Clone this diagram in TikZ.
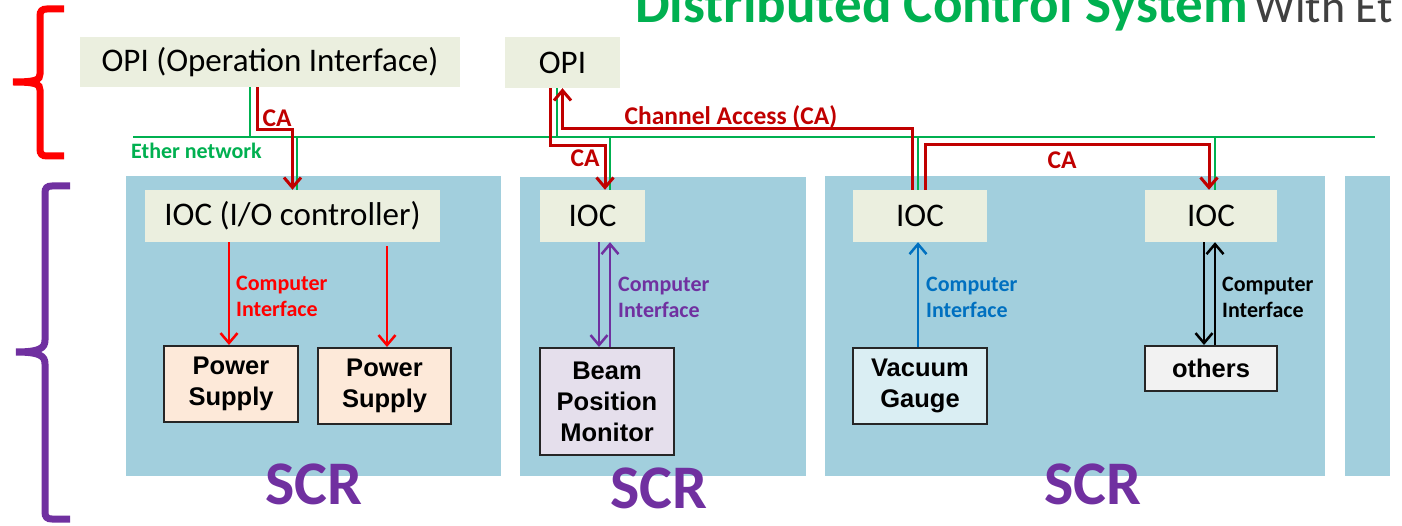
\documentclass[tikz,border=0pt]{standalone}
\usepackage{fontspec}
\setmainfont{Carlito}
\newfontfamily\arialf{Liberation Sans}
\usetikzlibrary{arrows.meta}
\definecolor{panelc}{HTML}{A2CFDD}
\definecolor{boxc}{HTML}{EBEFDF}
\definecolor{psc}{HTML}{FDE9D9}
\definecolor{bpmc}{HTML}{E5DFEC}
\definecolor{vacc}{HTML}{DAEEF3}
\definecolor{othc}{HTML}{F2F2F2}
\definecolor{purp}{HTML}{7030A0}
\definecolor{cared}{HTML}{C00000}
\definecolor{brred}{HTML}{FF0000}
\definecolor{netg}{HTML}{00B050}
\definecolor{blu}{HTML}{0070C0}
\definecolor{titgray}{HTML}{404040}
\tikzset{
  swbox/.style={fill=boxc, inner sep=0pt, font=\fontsize{33}{40}\selectfont},
  dev/.style={fill=#1, draw=black!85, line width=2pt, inner sep=0pt, align=center,
     font=\arialf\bfseries\fontsize{25.5}{30.5}\selectfont},
  panel/.style={fill=panelc, draw=none},
  brace/.style={line width=7pt},
  net/.style={netg, line width=2.5pt},
  ca/.style={cared, line width=3pt},
  tip/.style={-{Straight Barb[length=10pt,width=17pt]}},
  cif/.style={line width=2.5pt},
  cilab/.style={font=\bfseries\fontsize{22}{26}\selectfont, align=left, anchor=west, inner sep=0pt},
  calab/.style={cared, font=\bfseries\fontsize{25.5}{30}\selectfont, inner sep=0pt},
  scr/.style={purp, font=\bfseries\fontsize{62}{70}\selectfont, inner sep=0pt}
}
\begin{document}
\begin{tikzpicture}[x=1pt,y=-1pt]
\useasboundingbox (0,0) rectangle (1402,526);
% title (cut at top, as in the reference)
\node[anchor=base west, inner sep=0pt, font=\bfseries\fontsize{55}{60}\selectfont, text=netg] (title) at (635,23) {Distributed Control System};
\node[anchor=base west, inner sep=0pt, font=\fontsize{46}{50}\selectfont, text=titgray] (title2) at (1254,23) {With Et};
% braces
\draw[brace, brred] (64,9) -- (47,9) .. controls (42,9) and (40,11) .. (40,16) -- (40,74)
   .. controls (40,80) and (36,82) .. (13,82) .. controls (36,82) and (40,84) .. (40,90)
   -- (40,149) .. controls (40,154) and (42,156) .. (47,156) -- (64,156);
\draw[brace, purp] (70,186) -- (52,186) .. controls (47,186) and (45,188) .. (45,193) -- (45,340)
   .. controls (45,348) and (40,352) .. (16,352) .. controls (40,352) and (45,356) .. (45,364)
   -- (45,512) .. controls (45,517) and (47,519) .. (52,519) -- (70,519);
% panels
\fill[panel] (126,176) rectangle (501,476);
\fill[panel] (520,177) rectangle (806,476);
\fill[panel] (825,176) rectangle (1325,476);
\fill[panel] (1345,176) rectangle (1390,476);
% SCR labels
\node[scr] (scr1) at (314,484) {SCR};
\node[scr] (scr2) at (659,488) {SCR};
\node[scr] (scr3) at (1093,484) {SCR};
% software boxes
\node[swbox, minimum width=380pt, minimum height=50pt] (opi1) at (270,62) {OPI (Operation Interface)};
\node[swbox, minimum width=115pt, minimum height=51pt] (opi2) at (562.5,62.5) {OPI};
\node[swbox, minimum width=295pt, minimum height=52pt] (ioc1) at (292.5,216) {IOC (I/O controller)};
\node[swbox, minimum width=105pt, minimum height=52pt] (ioc2) at (592.5,216) {IOC};
\node[swbox, minimum width=134pt, minimum height=52pt] (ioc3) at (920,216) {IOC};
\node[swbox, minimum width=132pt, minimum height=52pt] (ioc4) at (1211,216) {IOC};
% devices
\node[dev=psc, minimum width=134pt, minimum height=76pt] (ps1) at (231,384) {Power\\Supply};
\node[dev=psc, minimum width=133pt, minimum height=76pt] (ps2) at (384.5,386) {Power\\Supply};
\node[dev=bpmc, minimum width=134pt, minimum height=107pt, font=\arialf\bfseries\fontsize{25.5}{31}\selectfont] (bpm) at (607,401.5) {Beam\\Position\\Monitor};
\node[dev=vacc, minimum width=134pt, minimum height=76pt] (vac) at (920,386) {Vacuum\\Gauge};
\node[dev=othc, minimum width=132pt, minimum height=45pt] (oth) at (1211,368.5) {others};
% ether network
\coordinate (netL) at (133,137);
\coordinate (netR) at (1375,137);
\draw[net] (netL) -- (netR);
\node[anchor=west, inner sep=0pt, text=netg, font=\bfseries\fontsize{22}{26}\selectfont] (ethlab) at (131,151) {Ether network};
% green drops
\draw[net] ([xshift=-20pt]opi1.south) -- ([xshift=-20pt]opi1.south |- netL);
\draw[net] ([xshift=4.5pt]ioc1.north |- netL) -- ([xshift=4.5pt]ioc1.north);
\draw[net] ([xshift=-5.5pt]opi2.south) -- ([xshift=-5.5pt]opi2.south |- netL);
\draw[net] ([xshift=17.5pt]ioc2.north |- netL) -- ([xshift=17.5pt]ioc2.north);
\draw[net] ([xshift=-2pt]ioc3.north |- netL) -- ([xshift=-2pt]ioc3.north);
\draw[net] ([xshift=4pt]ioc4.north |- netL) -- ([xshift=4pt]ioc4.north);
% CA paths
\draw[ca, tip] ([xshift=-13pt]opi1.south) -- ++(0,42) -| (ioc1.north);
\node[calab] (ca1) at (277,118) {CA};
\draw[ca, tip] ([xshift=-12.5pt]opi2.south) -- ++(0,57.5) -| ([xshift=12.5pt]ioc2.north);
\node[calab] (ca2) at (585,158) {CA};
\draw[ca, tip] ([xshift=-8pt]ioc3.north) -- ++(0,-61) -| (opi2.south);
\node[calab] (ca3) at (731,117) {Channel Access (CA)};
\draw[ca, tip] ([xshift=5pt]ioc3.north) -- ++(0,-45) -| ([xshift=-2pt]ioc4.north);
\node[calab] (ca4) at (1062,160) {CA};
% computer interfaces
\draw[cif, brred, tip] ([xshift=-2pt]ps1.north |- ioc1.south) -- ([xshift=-2pt]ps1.north);
\draw[cif, brred, tip] ([xshift=2.5pt]ps2.north |- ioc1.south) ++(0,4) -- ([xshift=2.5pt]ps2.north);
\node[cilab, text=brred] (cil1) at (236,296) {Computer\\Interface};
\draw[cif, purp, tip] ([xshift=-8pt]bpm.north |- ioc2.south) -- ([xshift=-8pt]bpm.north);
\draw[cif, purp, tip] ([xshift=3pt]bpm.north) -- ([xshift=3pt]bpm.north |- ioc2.south);
\node[cilab, text=purp] (cil2) at (618,297) {Computer\\Interface};
\draw[cif, blu, tip] ([xshift=-2pt]vac.north) -- ([xshift=-2pt]vac.north |- ioc3.south);
\node[cilab, text=blu] (cil3) at (926,297) {Computer\\Interface};
\draw[cif, black, tip] ([xshift=-7pt]oth.north |- ioc4.south) -- ([xshift=-7pt]oth.north);
\draw[cif, black, tip] ([xshift=4pt]oth.north) -- ([xshift=4pt]oth.north |- ioc4.south);
\node[cilab, text=black] (cil4) at (1222,297) {Computer\\Interface};
\end{tikzpicture}
\end{document}
